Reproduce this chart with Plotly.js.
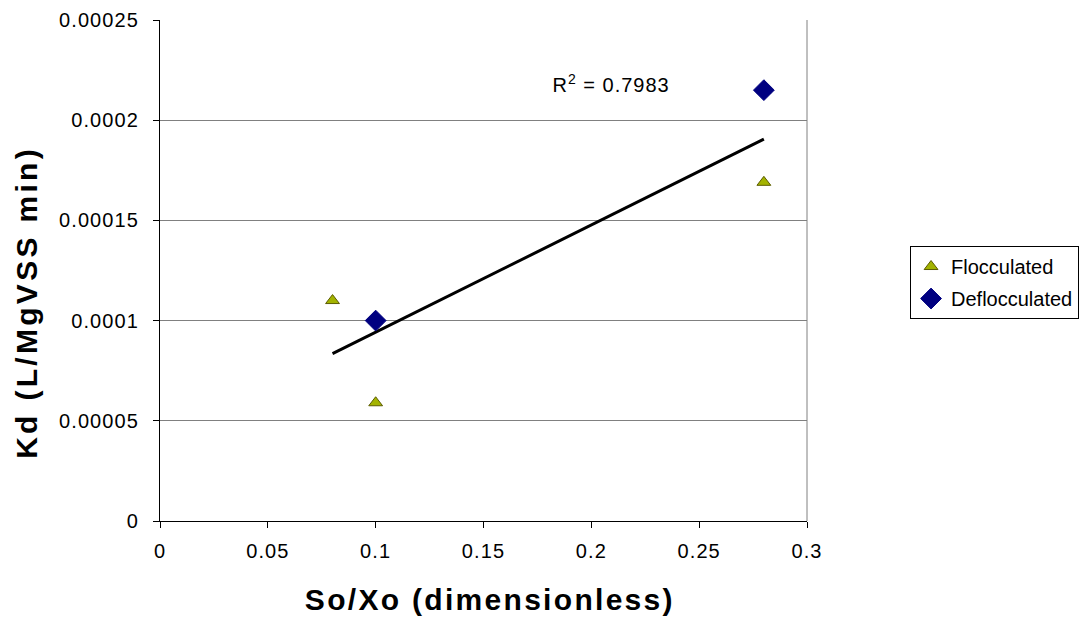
<!DOCTYPE html>
<html>
<head>
<meta charset="utf-8">
<script src="https://cdn.plot.ly/plotly-3.0.1.min.js"></script>
<style>html,body{margin:0;padding:0;background:#fff;}#chart{width:1081px;height:620px;}</style>
</head>
<body>
<div id="chart"></div>
<script>
// Data
const flocX = [0.08, 0.1, 0.1, 0.28, 0.28];
const flocY = [0.00011, 0.000059, 0.0001, 0.000169, 0.000215];
const deflocX = [0.1, 0.28];
const deflocY = [0.0001, 0.000215];
const xTickVals = [0, 0.05, 0.1, 0.15, 0.2, 0.25, 0.3];
const xTickText = ["0", "0.05", "0.1", "0.15", "0.2", "0.25", "0.3"];
const yTickVals = [0, 0.00005, 0.0001, 0.00015, 0.0002, 0.00025];
const yTickText = ["0", "0.00005", "0.0001", "0.00015", "0.0002", "0.00025"];
const r2Label = "R<sup>2</sup> = 0.7983";
const xTitle = "<b>So/Xo (dimensionless)</b>";
const yTitle = "<b>Kd (L/MgVSS min)</b>";

// Linear least-squares trendline over all flocculated points
const n = flocX.length;
const mx = flocX.reduce((a, b) => a + b, 0) / n;
const my = flocY.reduce((a, b) => a + b, 0) / n;
let sxy = 0, sxx = 0;
for (let i = 0; i < n; i++) { sxy += (flocX[i] - mx) * (flocY[i] - my); sxx += (flocX[i] - mx) ** 2; }
const slope = sxy / sxx, icpt = my - slope * mx;
const trendX = [Math.min(...flocX), Math.max(...flocX)];
const trendY = trendX.map(x => icpt + slope * x);

const font = "Arial, 'Liberation Sans', sans-serif";
const traces = [
  {x: trendX, y: trendY, mode: 'lines', line: {color: '#000', width: 3}, showlegend: false, hoverinfo: 'skip'},
  {x: flocX, y: flocY, mode: 'markers', name: 'Flocculated', legendgroup: 'a',
   marker: {symbol: 'triangle-up', size: 12, color: '#a3b300', line: {color: '#5c5c00', width: 1}}},
  {x: deflocX, y: deflocY, mode: 'markers', name: 'Deflocculated', legendgroup: 'b',
   marker: {symbol: 'diamond', size: 16, color: '#000080', line: {color: '#000080', width: 1}}}
];
const layout = {
  width: 1081, height: 620,
  margin: {l: 160, r: 274, t: 20, b: 99},
  paper_bgcolor: '#fff', plot_bgcolor: '#fff',
  font: {family: font, size: 20, color: '#000'},
  xaxis: {range: [0, 0.3], tickvals: xTickVals, ticktext: xTickText, showgrid: false, zeroline: false,
          showline: true, linecolor: '#000', linewidth: 1, ticks: 'outside', ticklen: 6, tickcolor: '#000',
          tickfont: {size: 20}, ticklabelstandoff: 6},
  yaxis: {range: [0, 0.00025], tickvals: yTickVals, ticktext: yTickText, showgrid: true, gridcolor: '#808080', gridwidth: 1,
          zeroline: false, showline: true, linecolor: '#000', linewidth: 1, ticks: 'outside', ticklen: 6, tickcolor: '#000',
          tickfont: {size: 20}, ticklabelstandoff: 10},
  legend: {xref: 'container', yref: 'container', x: 0.9982, xanchor: 'right', y: 0.6032, yanchor: 'top',
           bordercolor: '#000', borderwidth: 1, bgcolor: '#fff', font: {size: 20},
           tracegroupgap: 3, traceorder: 'grouped', itemwidth: 30},
  shapes: [{type: 'line', xref: 'paper', yref: 'paper', x0: 1, x1: 1, y0: 0, y1: 1, line: {color: '#808080', width: 1}}],
  annotations: [
    {x: 0.2091, y: 0.0002183, xref: 'x', yref: 'y', text: r2Label, showarrow: false, font: {size: 20}},
    {x: 0.51, y: -0.1557, xref: 'paper', yref: 'paper', text: xTitle, showarrow: false, xanchor: 'center', yanchor: 'middle', font: {size: 30}},
    {x: -0.2065, y: 0.437, xref: 'paper', yref: 'paper', text: yTitle, showarrow: false, textangle: -90, xanchor: 'center', yanchor: 'middle', font: {size: 30}}
  ]
};
Plotly.newPlot('chart', traces, layout, {displayModeBar: false, staticPlot: true}).then(gd => {
  // Match the slightly wider text spacing of the reference rendering
  gd.querySelectorAll('.xtick text, .ytick text').forEach(t => t.style.letterSpacing = '1.1px');
  const ann = gd.querySelectorAll('.annotation-text');
  if (ann[0]) ann[0].style.letterSpacing = '1px';
  if (ann[1]) ann[1].style.letterSpacing = '2.3px';
  if (ann[2]) ann[2].style.letterSpacing = '3.3px';
});
</script>
</body>
</html>
